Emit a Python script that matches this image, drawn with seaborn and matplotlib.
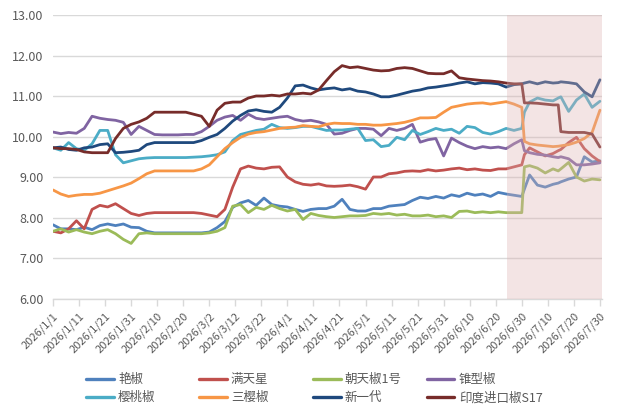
import numpy as np
import pandas as pd
import matplotlib
matplotlib.use('Agg')
import matplotlib.pyplot as plt
import seaborn as sns
from matplotlib.lines import Line2D

sns.set_theme(style='white')
plt.rcParams['font.family'] = ['Noto Sans CJK SC', 'DejaVu Sans']

START = '2026-01-01'
END_DAYS = 210.8
SHADE_START = '2026-06-24 08:00'

DAY = [0, 3, 6, 9, 12, 15, 18, 21, 24, 27,
       30, 33, 36, 39, 42, 45, 48, 51, 54, 57,
       60, 63, 66, 69, 72, 75, 78, 81, 84, 87,
       90, 93, 96, 99, 102, 105, 108, 111, 114, 117,
       120, 123, 126, 129, 132, 135, 138, 141, 144, 147,
       150, 153, 156, 159, 162, 165, 168, 171, 174, 177,
       180, 181, 183, 186, 189, 192, 194, 195, 198, 201,
       204, 207, 210]

SERIES = ['艳椒', '满天星', '朝天椒1号', '锥型椒', '樱桃椒', '三樱椒', '新一代', '印度进口椒S17']
COLORS = ['#4F81BD', '#C0504D', '#9BBB59', '#8064A2', '#4BACC6', '#F79646', '#1F497D', '#772C2A']

YANJIAO = [7.82, 7.72, 7.72, 7.70, 7.76, 7.70, 7.80, 7.84, 7.80, 7.84,
           7.76, 7.75, 7.66, 7.62, 7.62, 7.62, 7.62, 7.62, 7.62, 7.62,
           7.64, 7.75, 7.90, 8.25, 8.36, 8.42, 8.30, 8.48, 8.32, 8.28,
           8.26, 8.20, 8.15, 8.20, 8.22, 8.22, 8.28, 8.45, 8.20, 8.16,
           8.16, 8.22, 8.22, 8.28, 8.30, 8.32, 8.42, 8.50, 8.47, 8.52,
           8.48, 8.56, 8.52, 8.60, 8.55, 8.58, 8.52, 8.62, 8.58, 8.55,
           8.52, 8.70, 9.05, 8.80, 8.75, 8.82, 8.85, 8.88, 8.95, 9.00,
           9.50, 9.37, 9.40]

MANTIANXING = [7.66, 7.62, 7.72, 7.92, 7.72, 8.20, 8.30, 8.26, 8.34, 8.22,
               8.10, 8.05, 8.10, 8.12, 8.12, 8.12, 8.12, 8.12, 8.12, 8.10,
               8.06, 8.02, 8.20, 8.75, 9.20, 9.27, 9.22, 9.20, 9.24, 9.25,
               9.00, 8.88, 8.82, 8.80, 8.83, 8.78, 8.77, 8.78, 8.80, 8.76,
               8.70, 9.00, 9.00, 9.08, 9.10, 9.14, 9.15, 9.14, 9.18, 9.15,
               9.17, 9.20, 9.22, 9.18, 9.20, 9.17, 9.16, 9.20, 9.20, 9.25,
               9.30, 9.55, 9.72, 9.62, 9.52, 9.58, 9.65, 9.68, 9.85, 9.98,
               9.70, 9.52, 9.38]

CHAOTIAN1 = [7.66, 7.72, 7.64, 7.70, 7.64, 7.60, 7.66, 7.70, 7.60, 7.46,
             7.36, 7.60, 7.62, 7.60, 7.60, 7.60, 7.60, 7.60, 7.60, 7.60,
             7.62, 7.66, 7.75, 8.28, 8.32, 8.12, 8.25, 8.20, 8.30, 8.22,
             8.16, 8.20, 7.95, 8.10, 8.05, 8.02, 8.00, 8.02, 8.04, 8.04,
             8.05, 8.10, 8.08, 8.10, 8.06, 8.08, 8.04, 8.04, 8.06, 8.02,
             8.04, 8.00, 8.15, 8.16, 8.12, 8.14, 8.12, 8.14, 8.12, 8.12,
             8.12, 9.25, 9.28, 9.22, 9.10, 9.20, 9.15, 9.20, 9.36, 9.00,
             8.90, 8.95, 8.93]

ZHUIXING = [10.11, 10.07, 10.10, 10.08, 10.20, 10.50, 10.45, 10.42, 10.40, 10.35,
            10.05, 10.25, 10.15, 10.05, 10.04, 10.04, 10.04, 10.05, 10.05, 10.12,
            10.25, 10.40, 10.48, 10.52, 10.40, 10.55, 10.45, 10.42, 10.45, 10.48,
            10.50, 10.42, 10.38, 10.40, 10.36, 10.30, 10.06, 10.08, 10.15, 10.20,
            10.20, 10.18, 10.02, 10.20, 10.15, 10.20, 10.30, 9.86, 9.92, 9.95,
            9.52, 9.96, 9.85, 9.76, 9.70, 9.75, 9.72, 9.74, 9.70, 9.82,
            9.92, 9.65, 9.60, 9.56, 9.54, 9.50, 9.48, 9.50, 9.45, 9.30,
            9.30, 9.32, 9.35]

YINGTAO = [9.72, 9.66, 9.85, 9.70, 9.66, 9.82, 10.15, 10.15, 9.55, 9.35,
           9.40, 9.45, 9.47, 9.48, 9.48, 9.48, 9.48, 9.48, 9.49, 9.50,
           9.52, 9.55, 9.62, 9.90, 10.05, 10.10, 10.15, 10.18, 10.30, 10.22,
           10.20, 10.22, 10.25, 10.25, 10.20, 10.15, 10.16, 10.16, 10.18, 10.20,
           9.90, 9.92, 9.75, 9.78, 9.98, 9.92, 10.15, 10.05, 10.12, 10.20,
           10.15, 10.18, 10.08, 10.25, 10.22, 10.10, 10.06, 10.12, 10.20, 10.15,
           10.20, 10.60, 10.85, 10.95, 10.90, 10.88, 10.95, 10.98, 10.62, 10.90,
           11.05, 10.72, 10.87]

SANYING = [8.68, 8.58, 8.52, 8.55, 8.57, 8.57, 8.60, 8.66, 8.72, 8.78,
           8.85, 8.96, 9.08, 9.15, 9.15, 9.15, 9.15, 9.15, 9.15, 9.20,
           9.30, 9.50, 9.70, 9.85, 9.98, 10.06, 10.10, 10.12, 10.16, 10.20,
           10.22, 10.23, 10.27, 10.25, 10.24, 10.30, 10.33, 10.32, 10.32, 10.30,
           10.30, 10.28, 10.28, 10.30, 10.32, 10.35, 10.40, 10.46, 10.46, 10.47,
           10.60, 10.72, 10.76, 10.80, 10.82, 10.83, 10.80, 10.83, 10.86, 10.80,
           10.72, 9.88, 9.82, 9.79, 9.77, 9.75, 9.76, 9.77, 9.80, 9.86,
           9.95, 10.10, 10.65]

XINYIDAI = [9.72, 9.74, 9.68, 9.66, 9.72, 9.74, 9.80, 9.82, 9.60, 9.61,
            9.63, 9.66, 9.80, 9.85, 9.85, 9.85, 9.85, 9.85, 9.85, 9.90,
            9.98, 10.05, 10.20, 10.38, 10.52, 10.63, 10.66, 10.62, 10.60, 10.72,
            10.95, 11.25, 11.27, 11.20, 11.15, 11.18, 11.20, 11.15, 11.18, 11.12,
            11.10, 11.05, 10.98, 10.98, 11.02, 11.07, 11.12, 11.15, 11.20, 11.22,
            11.25, 11.28, 11.32, 11.35, 11.30, 11.33, 11.32, 11.30, 11.22, 11.28,
            11.30, 11.32, 11.35, 11.30, 11.35, 11.32, 11.33, 11.35, 11.33, 11.30,
            11.10, 10.98, 11.40]

YINDU_S17 = [9.72, 9.70, 9.70, 9.68, 9.62, 9.60, 9.60, 9.60, 9.95, 10.20,
             10.30, 10.36, 10.45, 10.60, 10.60, 10.60, 10.60, 10.60, 10.55, 10.50,
             10.25, 10.65, 10.82, 10.85, 10.85, 10.95, 11.00, 11.00, 11.02, 11.00,
             11.05, 11.05, 11.07, 11.05, 11.15, 11.38, 11.60, 11.75, 11.70, 11.72,
             11.68, 11.64, 11.62, 11.63, 11.68, 11.70, 11.68, 11.62, 11.56, 11.55,
             11.55, 11.62, 11.45, 11.42, 11.40, 11.38, 11.37, 11.35, 11.32, 11.30,
             11.30, 10.83, 10.83, 10.82, 10.80, 10.78, 10.78, 10.12, 10.10, 10.10,
             10.10, 10.06, 9.74]

VALUES = [YANJIAO, MANTIANXING, CHAOTIAN1, ZHUIXING, YINGTAO, SANYING, XINYIDAI, YINDU_S17]

TICK_LABELS = ['2026/1/1', '2026/1/11', '2026/1/21', '2026/1/31', '2026/2/10', '2026/2/20',
               '2026/3/2', '2026/3/12', '2026/3/22', '2026/4/1', '2026/4/11', '2026/4/21',
               '2026/5/1', '2026/5/11', '2026/5/21', '2026/5/31', '2026/6/10', '2026/6/20',
               '2026/6/30', '2026/7/10', '2026/7/20', '2026/7/30']
Y_TICKS = [6, 7, 8, 9, 10, 11, 12, 13]

dates = pd.Timestamp(START) + pd.to_timedelta(DAY, unit='D')
df = pd.concat([pd.DataFrame({'date': dates, 'value': vals, 'series': name})
                for name, vals in zip(SERIES, VALUES)], ignore_index=True)

W, H = 618, 419
fig = plt.figure(figsize=(W / 100, H / 100), dpi=100)
ax = fig.add_axes([53 / W, 1 - 298.5 / H, (602 - 53) / W, (298.5 - 15) / H])

palette = dict(zip(SERIES, COLORS))
sns.lineplot(data=df, x='date', y='value', hue='series', hue_order=SERIES,
             palette=palette, linewidth=2.0, legend=False, ax=ax,
             estimator=None, sort=False)

x0 = pd.Timestamp(START)
x1 = x0 + pd.Timedelta(days=END_DAYS)
ax.set_xlim(x0, x1)
ax.set_ylim(min(Y_TICKS), max(Y_TICKS))

ax.axvspan(pd.Timestamp(SHADE_START), x1, facecolor=(221 / 255, 178 / 255, 178 / 255),
           alpha=0.35, lw=0, zorder=5)

grid_c = '#D9D9D9'
text_c = '#595959'
ax.yaxis.grid(True, color=grid_c, lw=1)
ax.xaxis.grid(False)
ax.set_axisbelow(True)
for s in ['left', 'top', 'right']:
    ax.spines[s].set_visible(False)
ax.spines['bottom'].set_color(grid_c)
ax.spines['bottom'].set_linewidth(1)

ax.set_yticks(Y_TICKS)
ax.set_yticklabels([f'{v:.2f}' for v in Y_TICKS], fontsize=9, color=text_c)
ax.tick_params(axis='y', length=0, pad=7)

ax.set_xticks(pd.to_datetime(TICK_LABELS, format='%Y/%m/%d'))
ax.set_xticklabels(TICK_LABELS, rotation=45, ha='right', rotation_mode='anchor',
                   fontsize=8, color=text_c)
ax.tick_params(axis='x', bottom=True, length=5, width=1, color=grid_c, pad=4)
ax.set_xlabel('')
ax.set_ylabel('')

col_x = [86, 199, 313, 427]
for i in range(4):
    idx = [i, i + 4]
    handles = [Line2D([], [], color=COLORS[k], lw=2.4) for k in idx]
    labels = [SERIES[k] for k in idx]
    fig.legend(handles, labels, loc='upper left',
               bbox_to_anchor=(col_x[i] / W, 1 - 373 / H),
               frameon=False, borderpad=0, borderaxespad=0,
               handlelength=2.2, handletextpad=0.35, labelspacing=0.42,
               fontsize=9, labelcolor=text_c)

fig.savefig('out.png', dpi=100)
